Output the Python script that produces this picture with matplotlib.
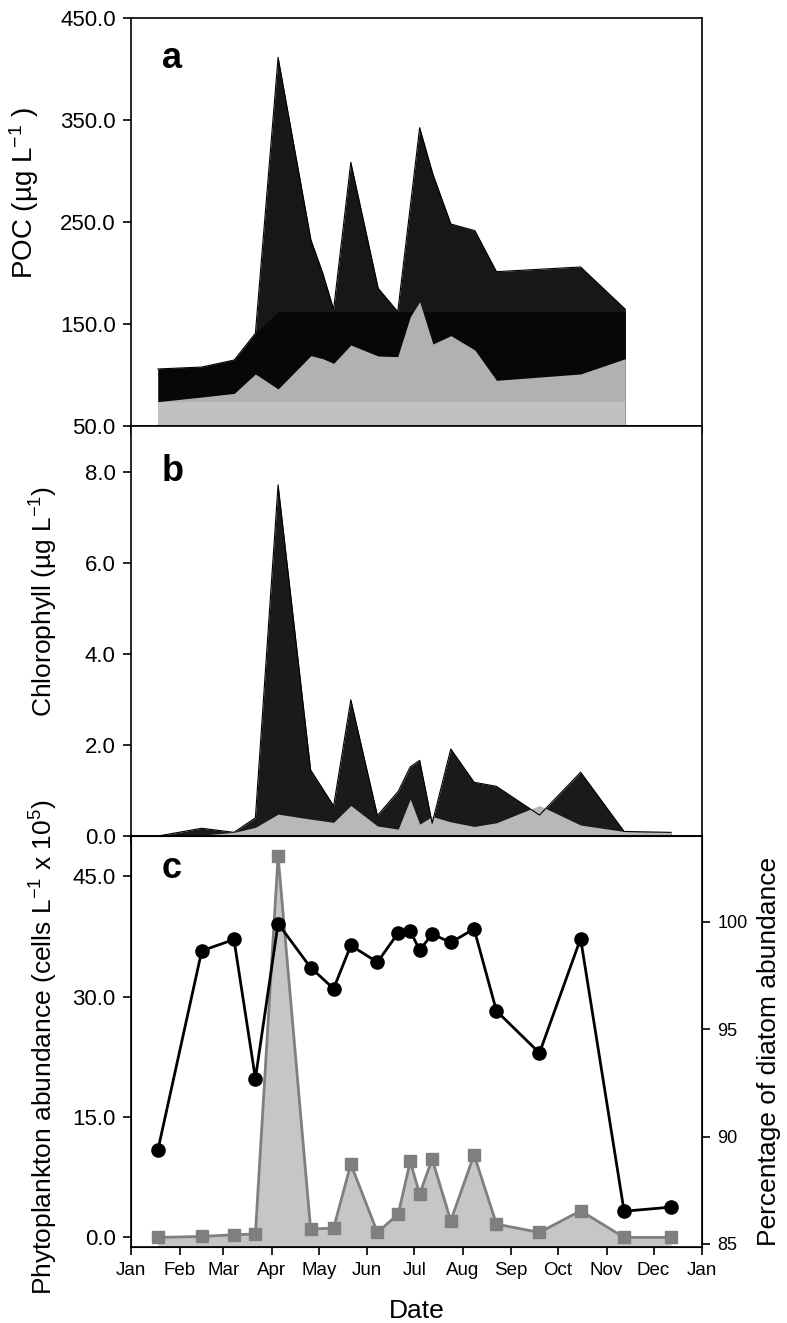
import numpy as np
import matplotlib
matplotlib.use('Agg')
import matplotlib.pyplot as plt
from matplotlib.ticker import FixedLocator, FormatStrFormatter

plt.rcParams['font.family'] = ['Liberation Sans', 'DejaVu Sans']
plt.rcParams['mathtext.fontset'] = 'custom'
plt.rcParams['mathtext.rm'] = 'Liberation Sans'
plt.rcParams['mathtext.it'] = 'Liberation Sans:italic'

# month axis (day of year)
month_starts = [0, 31, 59, 90, 120, 151, 181, 212, 243, 273, 304, 334, 365]
month_labels = ['Jan', 'Feb', 'Mar', 'Apr', 'May', 'Jun', 'Jul', 'Aug', 'Sep', 'Oct', 'Nov', 'Dec', 'Jan']

# panel a - POC
poc_days = [17.2, 45.2, 66.0, 79.5, 94.0, 115.0, 122.6, 129.5, 140.5, 158.0, 170.5, 178.5,
            184.5, 193.0, 204.5, 219.8, 233.6, 287.4, 316.0]
poc_total = [105.9, 107.8, 114.7, 140.9, 411.4, 232.4, 199.7, 164.4, 308.5, 185.0, 162.1, 265.0,
             342.5, 296.7, 248.0, 241.5, 201.3, 205.9, 164.4]
poc_part = [73.9, 78.4, 82.0, 101.0, 86.3, 119.0, 116.0, 111.4, 129.4, 118.6, 118.0, 157.0,
            171.9, 130.4, 138.6, 124.5, 94.8, 101.0, 116.0]

# panels b, c - sampling dates
days = [17.2, 45.2, 65.8, 79.5, 94.0, 114.8, 129.5, 140.5, 157.5, 170.8, 178.5, 184.5,
        192.5, 204.4, 219.3, 233.6, 261.1, 287.4, 315.2, 345.2]
chl_total = [0.0, 0.17, 0.08, 0.40, 7.71, 1.45, 0.66, 2.99, 0.45, 0.98, 1.52, 1.66,
             0.28, 1.91, 1.18, 1.09, 0.46, 1.40, 0.10, 0.08]
chl_part = [0.0, 0.02, 0.08, 0.19, 0.48, 0.37, 0.30, 0.67, 0.22, 0.15, 0.81, 0.26,
            0.43, 0.31, 0.21, 0.29, 0.67, 0.24, 0.10, 0.08]
phyto = [0.0, 0.12, 0.33, 0.42, 47.5, 1.04, 1.16, 9.14, 0.62, 2.91, 9.47, 5.4,
         9.76, 2.08, 10.3, 1.66, 0.62, 3.32, 0.0, 0.0]
diatom_pct = [89.38, 98.65, 99.18, 92.70, 99.92, 97.87, 96.89, 98.90, 98.12, 99.49, 99.58, 98.68,
              99.43, 99.04, 99.67, 95.85, 93.89, 99.22, 86.52, 86.71]

fig = plt.figure(figsize=(7.87, 13.23), dpi=100)
ax_a = fig.add_axes([0.1665, 0.678, 0.7255, 0.3084])
ax_b = fig.add_axes([0.1665, 0.3681, 0.7255, 0.3099])
ax_c = fig.add_axes([0.1665, 0.0574, 0.7255, 0.3107])

tick_fs = 16
label_fs = 19
letter_fs = 26

for ax in (ax_a, ax_b, ax_c):
    ax.set_xlim(0, 365)
    ax.xaxis.set_major_locator(FixedLocator(month_starts))
    ax.tick_params(axis='both', direction='out', length=6, width=1.2, labelsize=tick_fs, pad=5)
    for s in ax.spines.values():
        s.set_linewidth(1.2)
    ax.yaxis.set_major_formatter(FormatStrFormatter('%.1f'))

# ---- panel a
ax_a.fill_between(poc_days, 50, poc_total, color='#171717', lw=0)
ax_a.fill_between(poc_days, 50, np.minimum(poc_total, 162), color='#070707', lw=0)
ax_a.plot(poc_days, poc_total, color='black', lw=0.8)
ax_a.fill_between(poc_days, 50, poc_part, color='#b1b1b1', lw=0)
ax_a.fill_between(poc_days, 50, min(poc_part), color='#c1c1c1', lw=0)
ax_a.set_ylim(50, 450)
ax_a.set_yticks([50, 150, 250, 350, 450])
ax_a.set_xticklabels([])
ax_a.set_ylabel('POC (µg L$^{\\mathregular{-1}}$ )', fontsize=20)
ax_a.yaxis.set_label_coords(-0.158, 0.571)
ax_a.text(0.054, 0.90, 'a', transform=ax_a.transAxes, fontsize=letter_fs, fontweight='bold', va='center')

# ---- panel b
ax_b.fill_between(days, 0, chl_total, color='#1a1a1a', lw=0)
ax_b.fill_between(days, 0, chl_part, color='#b8b8b8', lw=0)
ax_b.plot(days, chl_total, color='black', lw=0.8)
ax_b.set_ylim(0, 9)
ax_b.set_yticks([0, 2, 4, 6, 8])
ax_b.set_xticklabels([])
ax_b.set_ylabel('Chlorophyll (µg L$^{\\mathregular{-1}}$)', fontsize=label_fs)
ax_b.yaxis.set_label_coords(-0.124, 0.571)
ax_b.text(0.054, 0.888, 'b', transform=ax_b.transAxes, fontsize=letter_fs, fontweight='bold', va='center')

# ---- panel c
c_bottom = -1.2
ax_c.fill_between(days, c_bottom, phyto, color='#c6c6c6', lw=0)
ax_c.plot(days, phyto, color='#7f7f7f', lw=2, marker='s', ms=8.5, mec='#7f7f7f', mfc='#7f7f7f')
ax_c.set_ylim(c_bottom, 50)
ax_c.set_yticks([0, 15, 30, 45])
ax_c.set_xticklabels(month_labels, fontsize=13.5)
ax_c.set_xlabel('Date', fontsize=label_fs, labelpad=14)
ax_c.set_ylabel('Phytoplankton abundance (cells L$^{\\mathregular{-1}}$ x 10$^{\\mathregular{5}}$)',
                fontsize=label_fs)
ax_c.yaxis.set_label_coords(-0.124, 0.487)
ax_c.text(0.054, 0.922, 'c', transform=ax_c.transAxes, fontsize=letter_fs, fontweight='bold', va='center')

ax_r = ax_c.twinx()
ax_r.plot(days, diatom_pct, color='black', lw=2, marker='o', ms=9.5)
ax_r.set_ylim(84.85, 104)
ax_r.set_yticks([85, 90, 95, 100])
ax_r.tick_params(axis='y', direction='out', length=6, width=1.2, labelsize=13, pad=5)
ax_r.set_ylabel('Percentage of diatom abundance', fontsize=label_fs)
ax_r.yaxis.set_label_coords(1.096, 0.475)

fig.savefig('out.png', dpi=100)
